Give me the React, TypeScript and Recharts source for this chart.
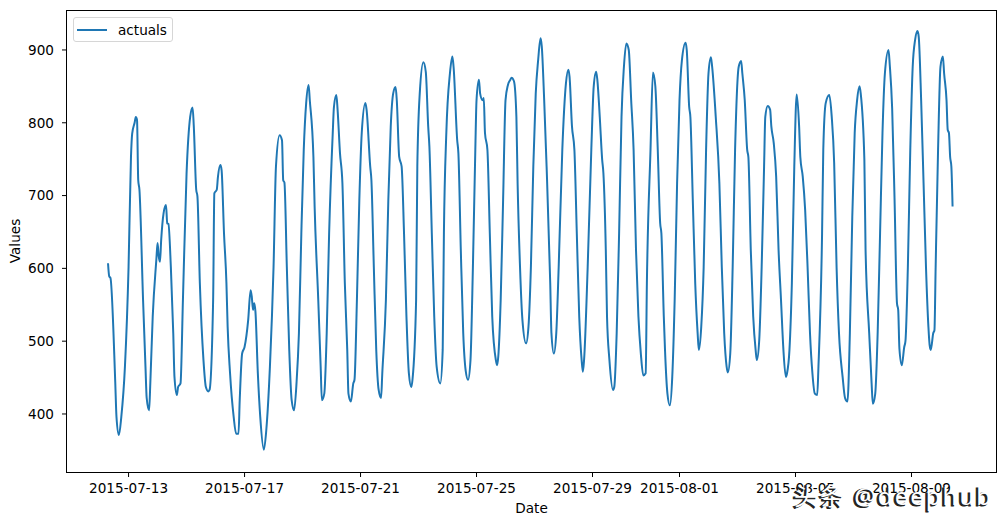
import { Line, LineChart, XAxis, YAxis } from "recharts";

// hours counted from 2015-07-12 00:00
const hours = [
  7, 8, 9, 13, 14, 16, 18, 21, 24, 26, 27, 29, 30, 31, 32, 33, 36, 38, 39, 41,
  42, 44, 47, 48, 49, 50, 51, 53, 55, 56, 57, 59, 61, 62, 64, 65, 67, 69, 72, 75,
  77, 78, 80, 81, 83, 86, 88, 90, 91, 94, 95, 97, 98, 100, 101, 103, 105, 106, 108, 111,
  113, 115, 116, 118, 120, 123, 125, 126, 127, 128, 129, 131, 133, 136, 138, 141, 144, 146, 149, 151,
  152, 153, 155, 157, 159, 161, 163, 165, 167, 169, 171, 173, 174, 177, 178, 181, 183, 184, 186, 188,
  190, 193, 194, 196, 197, 199, 201, 203, 205, 206, 208, 210, 211, 213, 215, 217, 220, 221, 224, 225,
  227, 229, 231, 233, 234, 237, 239, 241, 243, 245, 246, 248, 250, 252, 254, 256, 258, 259, 262, 263,
  265, 268, 270, 272, 273, 275, 277, 279, 282, 284, 285, 287, 290, 292, 293, 296, 297, 299, 301, 303,
  305, 307, 309, 311, 312, 314, 315, 317, 318, 319, 321, 323, 325, 328, 329, 330, 332, 334, 336, 338,
  340, 341, 343, 345, 346, 348, 350, 353, 355, 357, 359, 361, 363, 365, 366, 368, 370, 373, 374, 376,
  378, 380, 383, 386, 388, 389, 391, 393, 395, 397, 399, 400, 401, 404, 407, 409, 411, 412, 414, 416,
  417, 419, 420, 422, 425, 426, 428, 430, 432, 434, 436, 438, 440, 442, 444, 446, 448, 450, 452, 453,
  456, 458, 460, 462, 464, 465, 467, 468, 470, 472, 474, 476, 478, 480, 482, 485, 486, 488, 489, 491,
  493, 495, 496, 498, 500, 502, 504, 506, 507, 510, 513, 515, 517, 519, 520, 522, 524, 526, 529, 531,
  532, 534, 536, 537, 539, 541, 543, 544, 546, 548, 550, 551, 553, 555, 556, 558, 560, 562, 564, 566,
  568, 569, 571, 573, 575, 577, 579, 580, 582, 584, 586, 588, 590, 592, 594, 595, 598, 599, 601, 604,
  606, 608, 610, 612, 615, 617, 619, 621, 623, 625, 627, 629, 630, 633, 634, 637, 639, 640, 642, 644,
  646, 648, 650, 653, 654, 656, 658, 660, 661, 662, 664, 666, 667, 669, 671, 673, 675, 677, 678, 680,
  682, 684, 686, 687, 688, 690, 691, 692, 694, 696, 698, 699, 701, 702, 703, 704, 705, 706,
];

const actuals = [
  607, 589, 587, 443, 396, 371, 396, 465, 602, 753, 785, 800, 808, 804, 721, 708, 557, 465, 422, 405,
  442, 534, 612, 635, 616, 609, 639, 676, 687, 662, 661, 602, 511, 451, 426, 437, 442, 557, 730, 808,
  821, 795, 708, 699, 580, 474, 437, 431, 433, 557, 703, 708, 726, 742, 735, 648, 580, 520, 456, 396,
  373, 373, 419, 483, 492, 529, 570, 561, 543, 552, 541, 456, 396, 351, 378, 465, 602, 740, 783, 776,
  721, 718, 602, 488, 419, 405, 442, 511, 648, 763, 827, 852, 831, 753, 685, 557, 465, 419, 428, 511,
  648, 786, 822, 838, 818, 758, 717, 580, 488, 428, 417, 442, 447, 557, 694, 786, 827, 818, 740, 721,
  602, 488, 433, 422, 456, 557, 694, 795, 840, 849, 831, 753, 740, 648, 534, 456, 437, 447, 557, 740,
  840, 883, 870, 795, 767, 648, 534, 465, 442, 488, 648, 786, 868, 891, 877, 776, 758, 625, 511, 460,
  447, 474, 602, 763, 831, 859, 840, 831, 834, 786, 763, 648, 534, 474, 467, 479, 557, 694, 831, 852,
  859, 862, 857, 808, 717, 602, 529, 497, 520, 602, 740, 840, 886, 916, 905, 831, 740, 580, 511, 483,
  511, 602, 763, 854, 873, 863, 795, 763, 648, 534, 474, 458, 474, 602, 763, 850, 870, 859, 808, 749,
  731, 625, 534, 474, 433, 437, 511, 648, 808, 877, 909, 900, 831, 763, 625, 534, 483, 453, 456, 580,
  763, 869, 850, 763, 662, 648, 534, 488, 428, 412, 451, 557, 717, 831, 886, 910, 900, 822, 808, 694,
  580, 511, 488, 520, 602, 763, 868, 890, 877, 808, 717, 602, 511, 465, 457, 483, 602, 763, 877, 885,
  868, 831, 763, 753, 625, 534, 488, 474, 502, 602, 740, 808, 823, 818, 795, 772, 726, 625, 557, 488,
  451, 456, 488, 580, 740, 839, 795, 753, 726, 680, 602, 511, 456, 428, 426, 465, 648, 763, 827, 838,
  808, 745, 602, 511, 451, 422, 417, 511, 671, 786, 831, 850, 840, 749, 625, 511, 442, 414, 428, 511,
  648, 786, 868, 900, 880, 820, 694, 552, 543, 490, 467, 492, 500, 602, 763, 877, 914, 926, 918, 831,
  717, 602, 520, 495, 488, 511, 515, 602, 763, 877, 891, 868, 831, 790, 786, 753, 740, 685,
];

const xTickHours = [24, 120, 216, 312, 408, 480, 576, 672];
const xTickLabels = [
  "2015-07-13",
  "2015-07-17",
  "2015-07-21",
  "2015-07-25",
  "2015-07-29",
  "2015-08-01",
  "2015-08-05",
  "2015-08-09",
];
const yTicks = [400, 500, 600, 700, 800, 900];

const data = hours.map((t, i) => ({ t, actuals: actuals[i] }));

const FONT = "'DejaVu Sans', sans-serif";
const MARK_FONT = "'Noto Sans', 'Noto Sans CJK SC', sans-serif";
const BLUE = "#1f77b4";

const LegendBox = () => (
  <div
    style={{
      position: "absolute",
      left: 73,
      top: 17,
      display: "flex",
      alignItems: "center",
      width: 100,
      height: 25,
      boxSizing: "border-box",
      border: "1px solid #d6d6d6",
      borderRadius: 3,
      background: "rgba(255,255,255,0.8)",
      fontFamily: FONT,
      fontSize: 13.6,
      color: "#000",
    }}
  >
    <span
      style={{ display: "inline-block", width: 30, height: 2, background: BLUE, marginLeft: 3 }}
    />
    <span style={{ marginLeft: 11 }}>actuals</span>
  </div>
);

export default function App() {
  return (
    <div style={{ position: "absolute", left: 0, top: 0, width: 1005, height: 525, background: "#fff" }}>
      <LineChart
        width={1005}
        height={525}
        data={data}
        margin={{ top: 10, right: 9, bottom: 0, left: 0 }}
      >
        <XAxis
          dataKey="t"
          type="number"
          domain={[-26.95, 741.95]}
          ticks={xTickHours}
          interval={0}
          tickFormatter={(v: number) => xTickLabels[xTickHours.indexOf(v)] ?? ""}
          height={53}
          axisLine={false}
          tickLine={{ stroke: "#000" }}
          tickSize={5}
          tickMargin={6}
          tick={{ fill: "#000", fontSize: 13.6, fontFamily: FONT }}
          label={{ value: "Date", position: "insideBottom", offset: 12, fill: "#000", fontSize: 13.6, fontFamily: FONT }}
        />
        <YAxis
          type="number"
          domain={[320.3, 954.9]}
          allowDataOverflow
          ticks={yTicks}
          interval={0}
          width={67}
          axisLine={false}
          tickLine={{ stroke: "#000" }}
          tickSize={5}
          tickMargin={8}
          tick={{ fill: "#000", fontSize: 13.6, fontFamily: FONT }}
          label={{
            content: ({ viewBox }: any) => {
              const cy = viewBox.y + viewBox.height / 2;
              return (
                <text
                  x={20}
                  y={cy}
                  transform={`rotate(-90, 20, ${cy})`}
                  textAnchor="middle"
                  fill="#000"
                  fontSize={13.6}
                  fontFamily={FONT}
                >
                  Values
                </text>
              );
            },
          }}
        />
        <Line
          dataKey="actuals"
          type="monotone"
          stroke={BLUE}
          strokeWidth={2}
          dot={false}
          isAnimationActive={false}
        />
      </LineChart>
      <LegendBox />
      {/* axes frame */}
      <div
        style={{
          position: "absolute",
          left: 66,
          top: 10,
          width: 931,
          height: 463,
          border: "1px solid #000",
          boxSizing: "border-box",
          pointerEvents: "none",
        }}
      />
      {/* watermark */}
      <svg width={1005} height={525} style={{ position: "absolute", left: 0, top: 0, pointerEvents: "none" }}>
        <text
          x={792}
          y={506}
          fontSize={24}
          fontFamily={MARK_FONT}
          textLength={197}
          lengthAdjust="spacing"
          fill="#222"
          stroke="#222"
          strokeWidth={1}
        >
          头条 @deephub
        </text>
        <text
          x={794}
          y={504.5}
          fontSize={24}
          fontFamily={MARK_FONT}
          textLength={197}
          lengthAdjust="spacing"
          fill="#fff"
        >
          头条 @deephub
        </text>
      </svg>
    </div>
  );
}
